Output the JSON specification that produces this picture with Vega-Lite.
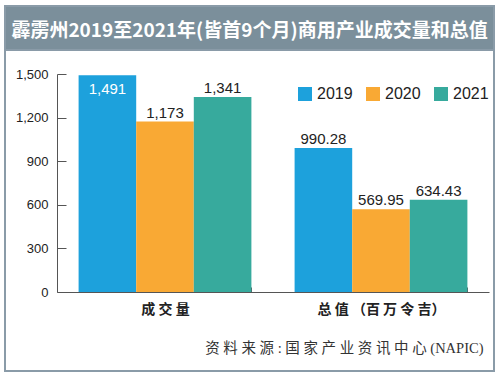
{
  "$schema": "https://vega.github.io/schema/vega-lite/v6.json",
  "padding": {"left": 4, "top": 5, "right": 7, "bottom": 4},
  "background": "white",
  "spacing": 0,
  "bounds": "flush",
  "vconcat": [
    {
      "width": 489,
      "height": 44,
      "view": {"fill": "#7b8f9b", "stroke": "#8a9ba8", "strokeWidth": 2},
      "data": {"values": [{"t": "霹雳州2019至2021年(皆首9个月)商用产业成交量和总值"}]},
      "mark": {"type": "text", "color": "white", "font": "Noto Sans CJK SC", "fontWeight": "bold", "fontSize": 19, "align": "center", "baseline": "middle", "dy": 3},
      "encoding": {"text": {"field": "t"}}
    },
    {
      "width": 489,
      "height": 321,
      "view": {"fill": "white", "stroke": "#8a9ba8", "strokeWidth": 2},
      "data": {"values": [
        {"group": "成交量", "year": "2019", "v": 1491},
        {"group": "成交量", "year": "2020", "v": 1173},
        {"group": "成交量", "year": "2021", "v": 1341},
        {"group": "总值", "year": "2019", "v": 990.28},
        {"group": "总值", "year": "2020", "v": 569.95},
        {"group": "总值", "year": "2021", "v": 634.43}
      ]},
      "transform": [
        {"calculate": "datum.group == '成交量' ? format(datum.v, ',') : format(datum.v, '.2f')", "as": "lbl"}
      ],
      "encoding": {
        "x": {
          "field": "group", "type": "nominal", "sort": ["成交量", "总值"],
          "scale": {"range": [52, 484], "paddingInner": 0.2, "paddingOuter": 0.1},
          "axis": {
            "offset": -79,
            "labelExpr": "datum.value == '成交量' ? '成 交 量' : datum.value == '总值' ? '总 值 （百 万 令 吉）' : ''",
            "labelAngle": 0,
            "labelFont": "Noto Sans CJK SC",
            "labelFontWeight": "bold",
            "labelFontSize": 14,
            "labelColor": "#222",
            "labelPadding": 15,
            "labelBaseline": "top",
            "domainColor": "#555",
            "tickColor": "#555",
            "tickSize": -5,
            "tickBand": "extent",
            "title": "资 料 来 源 : 国 家 产 业 资 讯 中 心 (NAPIC)",
            "titleFont": "Liberation Serif, Noto Sans CJK SC",
            "titleFontWeight": "normal",
            "titleFontSize": 14.5,
            "titleColor": "#333",
            "titleX": 478,
            "titleY": 56,
            "titleAlign": "right",
            "titleBaseline": "middle"
          }
        },
        "xOffset": {"field": "year", "type": "nominal", "scale": {"paddingInner": 0, "paddingOuter": 0}},
        "y": {
          "field": "v", "type": "quantitative",
          "scale": {"domain": [0, 1500], "range": [242, 24], "nice": false},
          "axis": {
            "offset": -52,
            "values": [0, 300, 600, 900, 1200, 1500],
            "format": ",.0f",
            "title": null,
            "grid": false,
            "tickSize": -9,
            "labelPadding": 18,
            "labelFont": "Liberation Sans",
            "labelFontSize": 13,
            "labelColor": "#222",
            "domainColor": "#555",
            "tickColor": "#555"
          }
        }
      },
      "layer": [
        {
          "mark": {"type": "bar"},
          "encoding": {
            "color": {
              "field": "year", "type": "nominal",
              "scale": {"domain": ["2019", "2020", "2021"], "range": ["#1da1dc", "#f9a934", "#37aa9d"]},
              "legend": {
                "orient": "none", "legendX": 292, "legendY": 80,
                "direction": "horizontal", "columns": 3, "title": null,
                "symbolType": "square", "symbolSize": 196, "symbolStrokeWidth": 0, "symbolOpacity": 1,
                "labelFont": "Liberation Sans", "labelFontSize": 16, "labelColor": "#222",
                "labelOffset": 4, "columnPadding": 12, "padding": 0
              }
            }
          }
        },
        {
          "transform": [{"filter": "datum.v < 1400"}],
          "mark": {"type": "text", "dy": -4, "baseline": "alphabetic", "align": "center", "font": "Liberation Sans", "fontSize": 15, "color": "#222"},
          "encoding": {"text": {"field": "lbl"}}
        },
        {
          "transform": [{"filter": "datum.v >= 1400"}],
          "mark": {"type": "text", "dy": 19, "baseline": "alphabetic", "align": "center", "font": "Liberation Sans", "fontSize": 15, "color": "white"},
          "encoding": {"text": {"field": "lbl"}}
        }
      ]
    }
  ]
}
